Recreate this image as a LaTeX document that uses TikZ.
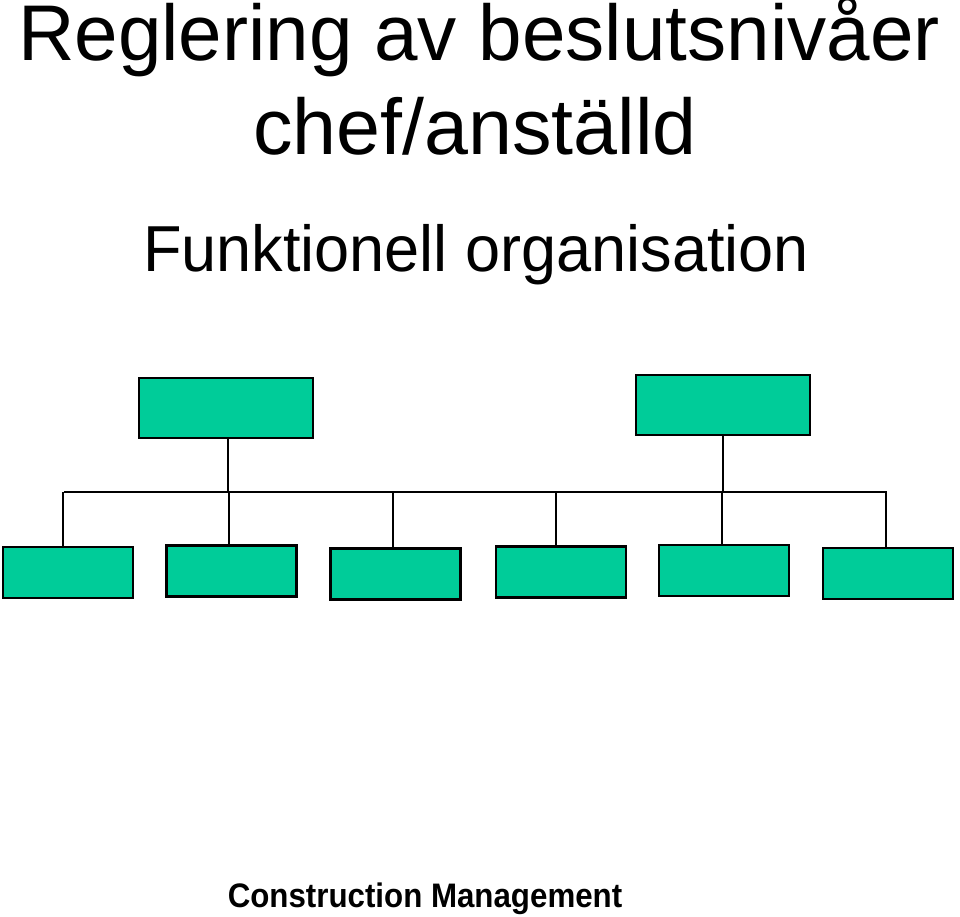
\documentclass[tikz,border=0pt]{standalone}
\usepackage{fontspec}
\setmainfont{Liberation Sans}
\usetikzlibrary{positioning}
\definecolor{boxgreen}{HTML}{00CC99}

\tikzset{
  parentbox/.style={draw=black, line width=2.5pt, fill=boxgreen, minimum width=174pt, minimum height=60pt, inner sep=0pt},
  childbox/.style={draw=black, line width=2.5pt, fill=boxgreen, minimum width=130pt, minimum height=51pt, inner sep=0pt},
  link/.style={line width=2.5pt, black}
}

\begin{document}
\begin{tikzpicture}[x=1pt, y=-1pt]
  \useasboundingbox (0,0) rectangle (960,917);

  % Rubriker
  \node[anchor=base, font=\fontsize{79}{90}\selectfont] (title1) at (479,61) {\scalebox{0.99}[1]{Reglering av beslutsnivåer}};
  \node[anchor=base, font=\fontsize{79}{90}\selectfont] (title2) at (475,155) {chef/anställd};
  \node[anchor=base, font=\fontsize{65}{72}\selectfont] (title3) at (476,271) {\scalebox{0.97}[1]{Funktionell organisation}};

  % Chefer
  \node[parentbox] (pl) at (226,408) {};
  \node[parentbox] (pr) at (723,405) {};

  % Anställda
  \foreach \n/\x/\y in {1/68/572.5, 2/231.5/571, 3/395.5/574, 4/561/572, 5/724/570.5, 6/888/573.5} {
    \node[childbox] (c\n) at (\x,\y) {};
  }

  % Samlingslinje
  \coordinate (busl) at (64,492);
  \coordinate (busr) at (887,492);
  \draw[link] (busl) -- (busr);
  \draw[link] (pl.south -| 228,0) -- (busl -| 228,0);
  \draw[link] (pr.south -| 723,0) -- (busl -| 723,0);

  % Nedgångar till anställda
  \foreach \n/\x in {1/63, 2/229, 3/393, 4/556, 5/722, 6/886} {
    \draw[link] (busl -| \x,0) -- (c\n.north -| \x,0);
  }

  % Sidfot
  \node[anchor=base, font=\fontsize{34}{40}\selectfont\bfseries] (foot) at (425,907) {\scalebox{0.92}[1]{Construction Management}};
\end{tikzpicture}
\end{document}
